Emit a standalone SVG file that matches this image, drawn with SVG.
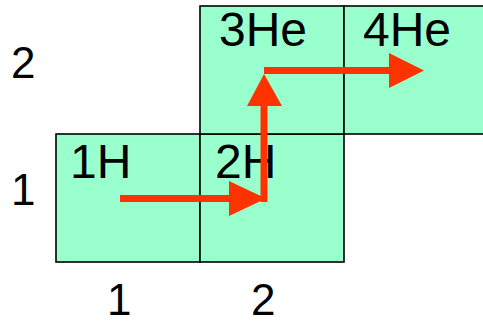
<svg xmlns="http://www.w3.org/2000/svg" width="483" height="325" viewBox="0 0 483 325">
<style>
.cell{fill:#99FFCC;stroke:#000;stroke-width:1.6}
.lbl{font-family:"Liberation Sans",Arial,sans-serif;font-size:48px;fill:#000}
.ax{font-family:"Liberation Sans",Arial,sans-serif;font-size:44px;fill:#000}
.ln{stroke:#FF3300;stroke-width:7;fill:none}
.hd{fill:#FF3300}
</style>
<rect width="483" height="325" fill="#fff"/>
<g id="cell-1H"><rect class="cell" x="56" y="134" width="144" height="128"/><text class="lbl" x="70" y="178">1H</text></g>
<g id="cell-2H"><rect class="cell" x="200" y="134" width="144" height="128"/><text class="lbl" x="215" y="178">2H</text></g>
<g id="cell-3He"><rect class="cell" x="200" y="6" width="144" height="128"/><text class="lbl" x="219" y="46">3He</text></g>
<g id="cell-4He"><rect class="cell" x="344" y="6" width="144" height="128"/><text class="lbl" x="363" y="46">4He</text></g>
<g id="axes">
<text class="ax" x="11" y="78">2</text>
<text class="ax" x="11" y="205">1</text>
<text class="ax" x="107" y="315">1</text>
<text class="ax" x="251" y="315">2</text>
</g>
<g id="connectors">
<line class="ln" x1="120" y1="198.5" x2="231" y2="198.5"/>
<polygon class="hd" points="229,181 266,198.5 229,216"/>
<line class="ln" x1="264" y1="202" x2="264" y2="104"/>
<polygon class="hd" points="247,106 264,74 282,106"/>
<line class="ln" x1="264" y1="70.5" x2="391" y2="70.5"/>
<polygon class="hd" points="389,53 424,70.5 389,88"/>
</g>
</svg>
